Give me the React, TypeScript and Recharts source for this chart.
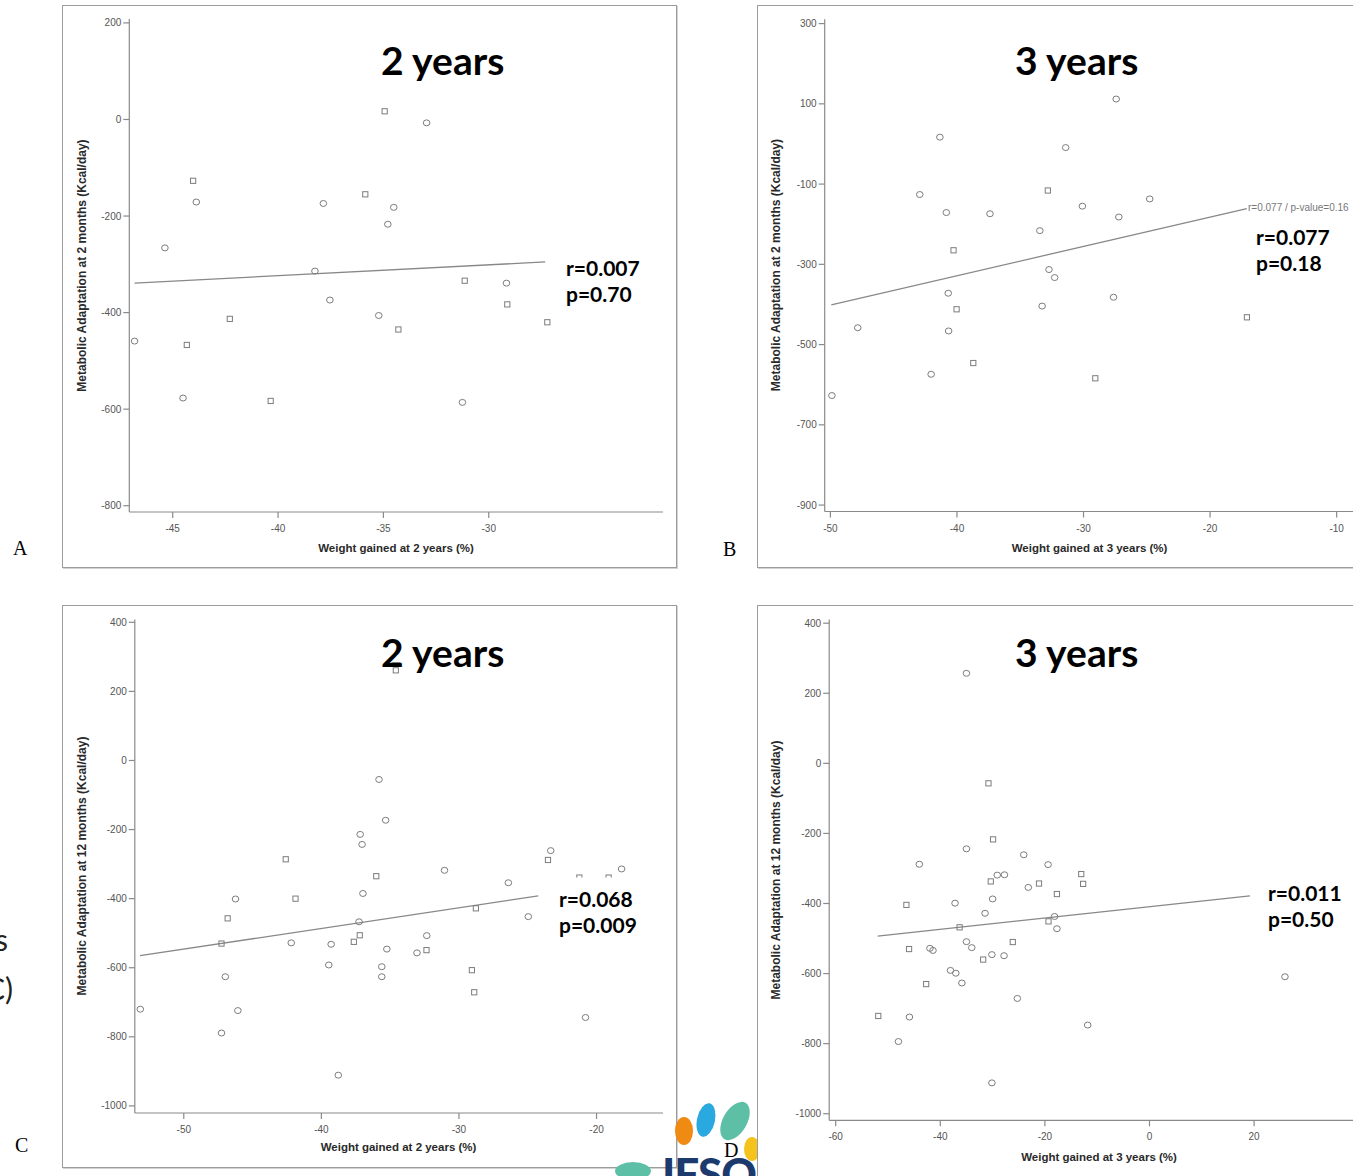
import React from 'react'
import { ScatterChart, Scatter, XAxis, YAxis, ReferenceLine } from 'recharts'

type Pt = { x: number; y: number }

// A: adaptation at 2 months vs weight gained at 2 years
const aCircles: Pt[] = [
  { x: -43.88, y: -171 }, { x: -45.37, y: -266 }, { x: -46.81, y: -459 }, { x: -44.51, y: -577 },
  { x: -38.25, y: -314 }, { x: -37.85, y: -174 }, { x: -37.54, y: -374 }, { x: -34.51, y: -182 },
  { x: -34.79, y: -217 }, { x: -35.22, y: -406 }, { x: -32.95, y: -7 }, { x: -31.25, y: -586 },
  { x: -29.16, y: -339 },
]
const aSquares: Pt[] = [
  { x: -44.03, y: -127 }, { x: -44.33, y: -467 }, { x: -42.29, y: -413 }, { x: -40.35, y: -583 },
  { x: -35.86, y: -155 }, { x: -34.94, y: 17 }, { x: -34.29, y: -435 }, { x: -31.14, y: -334 },
  { x: -29.12, y: -383 }, { x: -27.22, y: -420 },
]
const aFit: Pt[] = [{ x: -46.81, y: -339 }, { x: -27.32, y: -295 }]
const aXTicks = [-45, -40, -35, -30]
const aYTicks = [200, 0, -200, -400, -600, -800]

// B: adaptation at 2 months vs weight gained at 3 years
const bCircles: Pt[] = [
  { x: -49.88, y: -627 }, { x: -47.84, y: -458 }, { x: -42.94, y: -126 }, { x: -42.04, y: -574 },
  { x: -41.35, y: 17 }, { x: -40.84, y: -171 }, { x: -40.69, y: -372 }, { x: -40.66, y: -466 },
  { x: -37.39, y: -174 }, { x: -33.45, y: -216 }, { x: -33.27, y: -404 }, { x: -32.73, y: -313 },
  { x: -32.28, y: -333 }, { x: -31.41, y: -9 }, { x: -30.09, y: -155 }, { x: -27.63, y: -382 },
  { x: -27.42, y: 112 }, { x: -27.21, y: -182 }, { x: -24.77, y: -137 },
]
const bSquares: Pt[] = [
  { x: -40.27, y: -265 }, { x: -40.03, y: -412 }, { x: -38.71, y: -546 }, { x: -32.82, y: -116 },
  { x: -29.07, y: -584 }, { x: -17.09, y: -432 },
]
const bFit: Pt[] = [{ x: -49.93, y: -401 }, { x: -17.1, y: -161 }]
const bXTicks = [-50, -40, -30, -20, -10]
const bYTicks = [300, 100, -100, -300, -500, -700, -900]

// C: adaptation at 12 months vs weight gained at 2 years
const cCircles: Pt[] = [
  { x: -53.16, y: -720 }, { x: -47.26, y: -789 }, { x: -46.98, y: -626 }, { x: -46.24, y: -401 },
  { x: -46.07, y: -724 }, { x: -42.19, y: -528 }, { x: -39.46, y: -592 }, { x: -39.29, y: -532 },
  { x: -38.77, y: -911 }, { x: -37.26, y: -467 }, { x: -37.18, y: -214 }, { x: -37.04, y: -243 },
  { x: -36.98, y: -385 }, { x: -35.81, y: -55 }, { x: -35.61, y: -597 }, { x: -35.61, y: -626 },
  { x: -35.33, y: -173 }, { x: -35.24, y: -546 }, { x: -33.05, y: -557 }, { x: -32.34, y: -507 },
  { x: -31.05, y: -318 }, { x: -26.41, y: -354 }, { x: -24.96, y: -452 }, { x: -23.33, y: -261 },
  { x: -20.8, y: -744 }, { x: -18.18, y: -314 },
]
const cSquares: Pt[] = [
  { x: -47.26, y: -530 }, { x: -46.81, y: -457 }, { x: -42.59, y: -286 }, { x: -41.88, y: -400 },
  { x: -37.64, y: -525 }, { x: -37.21, y: -506 }, { x: -36.01, y: -335 }, { x: -34.59, y: 261 },
  { x: -32.36, y: -549 }, { x: -29.06, y: -607 }, { x: -28.89, y: -671 }, { x: -28.77, y: -428 },
  { x: -23.53, y: -288 }, { x: -21.25, y: -339 }, { x: -19.12, y: -339 },
]
const cFit: Pt[] = [{ x: -53.18, y: -565 }, { x: -24.24, y: -392 }]
const cXTicks = [-50, -40, -30, -20]
const cYTicks = [400, 200, 0, -200, -400, -600, -800, -1000]

// D: adaptation at 12 months vs weight gained at 3 years
const dCircles: Pt[] = [
  { x: -48.0, y: -794 }, { x: -45.9, y: -724 }, { x: -44.01, y: -288 }, { x: -41.98, y: -528 },
  { x: -41.4, y: -534 }, { x: -38.05, y: -591 }, { x: -37.18, y: -399 }, { x: -37.03, y: -599 },
  { x: -35.87, y: -627 }, { x: -35.0, y: 257 }, { x: -35.0, y: -244 }, { x: -35.0, y: -509 },
  { x: -33.98, y: -526 }, { x: -31.44, y: -428 }, { x: -30.13, y: -546 }, { x: -30.13, y: -912 },
  { x: -29.99, y: -387 }, { x: -29.11, y: -319 }, { x: -27.73, y: -318 }, { x: -27.81, y: -549 },
  { x: -25.27, y: -671 }, { x: -24.04, y: -261 }, { x: -23.17, y: -354 }, { x: -19.39, y: -289 },
  { x: -18.15, y: -437 }, { x: -17.7, y: -472 }, { x: -11.82, y: -747 }, { x: 25.9, y: -609 },
]
const dSquares: Pt[] = [
  { x: -51.86, y: -721 }, { x: -46.48, y: -404 }, { x: -45.97, y: -530 }, { x: -42.7, y: -630 },
  { x: -36.31, y: -468 }, { x: -31.8, y: -560 }, { x: -30.79, y: -57 }, { x: -30.35, y: -337 },
  { x: -29.91, y: -217 }, { x: -26.14, y: -510 }, { x: -21.13, y: -343 }, { x: -19.31, y: -451 },
  { x: -17.7, y: -373 }, { x: -13.05, y: -316 }, { x: -12.69, y: -344 },
]
const dFit: Pt[] = [{ x: -51.97, y: -493 }, { x: 19.2, y: -378 }]
const dXTicks = [-60, -40, -20, 0, 20]
const dYTicks = [400, 200, 0, -200, -400, -600, -800, -1000]

const SANS = "'Liberation Sans', Arial, sans-serif"
const HEAD = "Lato, 'Open Sans', sans-serif"
const MARK = '#7c7c7c'
const AXIS = '#8a8a8a'
const Y_W = 50
const X_H = 40

type Box = { left: number; top: number; width: number; height: number }
type Plot = { x0: number; x1: number; y0: number; y1: number }
type PanelCfg = {
  box: Box
  plot: Plot
  xDomain: [number, number]
  yDomain: [number, number]
  xTicks: number[]
  yTicks: number[]
  circles: Pt[]
  squares: Pt[]
  fit: Pt[]
}

const panels: PanelCfg[] = [
  {
    box: { left: 62, top: 5, width: 615, height: 563 },
    plot: { x0: 129.3, x1: 663, y0: 19, y1: 512 },
    xDomain: [-47.06, -21.73], yDomain: [-813, 208.1],
    xTicks: aXTicks, yTicks: aYTicks, circles: aCircles, squares: aSquares, fit: aFit,
  },
  {
    box: { left: 757, top: 5, width: 610, height: 563 },
    plot: { x0: 824.7, x1: 1354, y0: 19.3, y1: 511.5 },
    xDomain: [-50.45, -8.63], yDomain: [-916, 310.7],
    xTicks: bXTicks, yTicks: bYTicks, circles: bCircles, squares: bSquares, fit: bFit,
  },
  {
    box: { left: 62, top: 605, width: 615, height: 563 },
    plot: { x0: 134.8, x1: 663, y0: 619.4, y1: 1113 },
    xDomain: [-53.56, -15.17], yDomain: [-1020.5, 408.4],
    xTicks: cXTicks, yTicks: cYTicks, circles: cCircles, squares: cSquares, fit: cFit,
  },
  {
    box: { left: 757, top: 605, width: 625, height: 600 },
    plot: { x0: 829.2, x1: 1368.8, y0: 619.6, y1: 1120.3 },
    xDomain: [-61.24, 41.93], yDomain: [-1018.8, 410.3],
    xTicks: dXTicks, yTicks: dYTicks, circles: dCircles, squares: dSquares, fit: dFit,
  },
]

const circleShape = (props: any) => (
  <ellipse cx={props.cx} cy={props.cy} rx={3.3} ry={3} fill="none" stroke={MARK} strokeWidth={1} />
)
const squareShape = (props: any) => (
  <rect x={props.cx - 2.6} y={props.cy - 2.6} width={5.2} height={5.2} fill="none" stroke={MARK} strokeWidth={1} />
)

function Panel({ p }: { p: PanelCfg }) {
  const { box, plot } = p
  const margin = {
    top: plot.y0 - box.top,
    right: box.left + box.width - plot.x1,
    bottom: box.top + box.height - plot.y1 - X_H,
    left: plot.x0 - box.left - Y_W,
  }
  const tick = { fontSize: 10, fill: '#555', fontFamily: SANS }
  return (
    <>
      <div
        style={{
          position: 'absolute', left: box.left, top: box.top, width: box.width, height: box.height,
          boxSizing: 'border-box', border: '1px solid #9c9c9c', boxShadow: '1px 1px 0 #d2d2d2', background: '#fff',
        }}
      />
      <div style={{ position: 'absolute', left: box.left, top: box.top }}>
        <ScatterChart width={box.width} height={box.height} margin={margin}>
          <XAxis
            type="number" dataKey="x" domain={p.xDomain} ticks={p.xTicks} interval={0}
            allowDataOverflow height={X_H} tickSize={6} tickMargin={7} tick={tick}
            stroke={AXIS} strokeWidth={1.2}
          />
          <YAxis
            type="number" dataKey="y" domain={p.yDomain} ticks={p.yTicks} interval={0}
            allowDataOverflow width={Y_W} tickSize={6} tickMargin={2} tick={tick}
            stroke={AXIS} strokeWidth={1.2}
          />
          <ReferenceLine segment={p.fit} stroke="#888" strokeWidth={1.3} ifOverflow="visible" />
          <Scatter data={p.circles} shape={circleShape} isAnimationActive={false} />
          <Scatter data={p.squares} shape={squareShape} isAnimationActive={false} />
        </ScatterChart>
      </div>
    </>
  )
}

// society logo sitting between the two lower panels
function Logo() {
  return (
    <svg width={1353} height={1176} style={{ position: 'absolute', left: 0, top: 0, pointerEvents: 'none' }}>
      <ellipse cx={684} cy={1131} rx={9} ry={14} fill="#ef8a12" />
      <ellipse cx={706} cy={1120} rx={9} ry={17} fill="#2aa9e0" transform="rotate(12 706 1120)" />
      <ellipse cx={735} cy={1121} rx={12} ry={21} fill="#5cbfa6" transform="rotate(30 735 1121)" />
      <ellipse cx={752} cy={1149} rx={8} ry={12} fill="#f6c31c" />
      <ellipse cx={633} cy={1171} rx={18} ry={9} fill="#5cbfa6" />
      <text x={662} y={1190} fontFamily={HEAD} fontWeight={900} fontSize={44} fill="#1d3a6e" letterSpacing={-1}>
        IFSO
      </text>
    </svg>
  )
}

// titles, stats boxes and axis captions
const headings = [
  { text: '2 years', x: 381, y: 75 },
  { text: '3 years', x: 1015, y: 75 },
  { text: '2 years', x: 381, y: 667 },
  { text: '3 years', x: 1015, y: 667 },
]
const stats = [
  { r: 'r=0.007', p: 'p=0.70', x: 566, y: 276, bg: [548, 250, 105, 60] },
  { r: 'r=0.077', p: 'p=0.18', x: 1256, y: 245, bg: [1250, 220, 95, 58] },
  { r: 'r=0.068', p: 'p=0.009', x: 559, y: 907, bg: [540, 877.5, 112, 68] },
  { r: 'r=0.011', p: 'p=0.50', x: 1268, y: 901, bg: [1252, 872, 100, 66] },
]
const xTitles = [
  { text: 'Weight gained at 2 years (%)', x: 396, y: 552 },
  { text: 'Weight gained at 3 years (%)', x: 1089.5, y: 552 },
  { text: 'Weight gained at 2 years (%)', x: 398.5, y: 1151 },
  { text: 'Weight gained at 3 years (%)', x: 1099, y: 1161 },
]
const yTitles = [
  { text: 'Metabolic Adaptation at 2 months (Kcal/day)', x: 85.6, y: 265.5 },
  { text: 'Metabolic Adaptation at 2 months (Kcal/day)', x: 780, y: 265 },
  { text: 'Metabolic Adaptation at 12 months (Kcal/day)', x: 85.6, y: 866 },
  { text: 'Metabolic Adaptation at 12 months (Kcal/day)', x: 780, y: 870 },
]
const letters = [
  { text: 'A', x: 13, y: 555 },
  { text: 'B', x: 723, y: 556 },
  { text: 'C', x: 15, y: 1152 },
  { text: 'D', x: 724, y: 1157 },
]

export default function App() {
  return (
    <div style={{ position: 'absolute', left: 0, top: 0, width: 1353, height: 1176, overflow: 'hidden', background: '#fff' }}>
      <Panel p={panels[0]} />
      <Panel p={panels[1]} />
      <Panel p={panels[2]} />
      <Logo />
      <Panel p={panels[3]} />

      <svg width={1353} height={1176} style={{ position: 'absolute', left: 0, top: 0, pointerEvents: 'none' }}>
        {headings.map((h, i) => (
          <text key={i} x={h.x} y={h.y} fontFamily={HEAD} fontWeight={700} fontSize={39} fill="#000">
            {h.text}
          </text>
        ))}
        {stats.map((s, i) => (
          <g key={i}>
            <rect x={s.bg[0]} y={s.bg[1]} width={s.bg[2]} height={s.bg[3]} fill="#fff" />
            <text x={s.x} y={s.y} fontFamily={HEAD} fontWeight={700} fontSize={21} fill="#000">{s.r}</text>
            <text x={s.x} y={s.y + 26} fontFamily={HEAD} fontWeight={700} fontSize={21} fill="#000">{s.p}</text>
          </g>
        ))}
        <text x={1248} y={211} fontFamily={SANS} fontSize={10} fill="#777">r=0.077 / p-value=0.16</text>
        {xTitles.map((t, i) => (
          <text key={i} x={t.x} y={t.y} textAnchor="middle" fontFamily={SANS} fontWeight={700} fontSize={11.5} fill="#2a2a2a">
            {t.text}
          </text>
        ))}
        {yTitles.map((t, i) => (
          <text
            key={i} x={t.x} y={t.y} textAnchor="middle" transform={`rotate(-90 ${t.x} ${t.y})`}
            fontFamily={SANS} fontWeight={700} fontSize={12} fill="#2a2a2a"
          >
            {t.text}
          </text>
        ))}
        {letters.map((l, i) => (
          <text key={i} x={l.x} y={l.y} fontFamily="'Liberation Serif', 'DejaVu Serif', serif" fontSize={20} fill="#000">
            {l.text}
          </text>
        ))}
        <text x={8} y={951} textAnchor="end" fontFamily={HEAD} fontSize={30} fill="#222">s</text>
        <text x={13} y={1000} textAnchor="end" fontFamily={HEAD} fontSize={30} fill="#222">(C)</text>
      </svg>
    </div>
  )
}
